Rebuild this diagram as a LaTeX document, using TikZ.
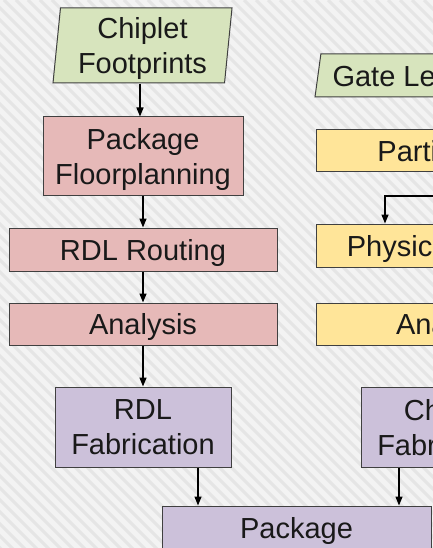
\documentclass[tikz,border=0pt]{standalone}
\usepackage{fontspec}
\setmainfont{Liberation Sans}
\usepackage{tikz}
\usetikzlibrary{
	arrows.meta,
	positioning,
	shapes.geometric,
}
\definecolor{bgcol}{HTML}{F3F3F3}
\definecolor{stripecol}{HTML}{E5E5E5}
\definecolor{inputcol}{HTML}{D7E4BD}
\definecolor{pkgcol}{HTML}{E6B9B8}
\definecolor{chipcol}{HTML}{FFE599}
\definecolor{fabcol}{HTML}{CCC1DA}
\definecolor{edgecol}{HTML}{404040}
\tikzset{
	box/.style={draw=edgecol, line width=1pt, rectangle, inner sep=0pt, align=center,
		font=\fontsize{29}{35}\selectfont, text=black!90, text depth=0pt},
	inputbox/.style={box, trapezium, trapezium stretches body=true},
	flow/.style={-{Triangle[length=9pt,width=7pt]}, line width=1.4pt, black},
}
\begin{document}
\begin{tikzpicture}[x=1pt, y=-1pt]
			\clip (0,0) rectangle (433,548);
			\fill[bgcol] (0,0) rectangle (433,548);
			\foreach \s in {-560,-548,...,440}
				\draw[stripecol, line width=3pt] (\s,0) -- (\s+560,560);
			% package flow
			\node[inputbox, fill=inputcol, trapezium left angle=82.4, trapezium right angle=97.6,
				minimum width=179, minimum height=75] (foot) at (142.5,45.5) {Chiplet\\Footprints};
			\node[box, fill=pkgcol, minimum width=200, minimum height=78] (floor) at (143,156) {Package\\Floorplanning};
			\node[box, fill=pkgcol, minimum width=268, minimum height=43] (route) at (143,249.5) {RDL Routing};
			\node[box, fill=pkgcol, minimum width=268, minimum height=42] (ana) at (143,324) {Analysis};
			\node[box, fill=fabcol, minimum width=176, minimum height=80] (rdlfab) at (143,427) {RDL\\Fabrication};
			% chiplet flow
			\node[inputbox, fill=inputcol, trapezium left angle=74.4, trapezium right angle=105.6,
				minimum width=264, minimum height=43] (netlist) at (447,75.5) {Gate Level Netlist};
			\node[box, fill=chipcol, minimum width=268, minimum height=42] (part) at (450,150.5) {Partitioning};
			\node[box, fill=chipcol, minimum width=268, minimum height=43] (phys) at (450,245.5) {Physical Design};
			\node[box, fill=chipcol, minimum width=268, minimum height=42] (ana2) at (450,324) {Analysis};
			\node[box, fill=fabcol, minimum width=176, minimum height=80] (chipfab) at (449,427) {Chiplet\\Fabrication};
			% assembly
			\node[box, fill=fabcol, minimum width=269, minimum height=43] (pkg) at (296.5,527.5) {Package};
			\coordinate (loop) at (560,196);
			\draw[flow] ([xshift=-2.5]foot.south) -- ([xshift=-2.5]foot.south |- floor.north);
			\draw[flow] (floor) -- (route);
			\draw[flow] (route) -- (ana);
			\draw[flow] (ana) -- (rdlfab);
			\draw[flow] ([xshift=55]rdlfab.south) -- ([xshift=55]rdlfab.south |- pkg.north);
			\draw[flow] ([xshift=-50]chipfab.south) -- ([xshift=-50]chipfab.south |- pkg.north);
			\draw[flow] (loop) -| ([xshift=-65]phys.north);
		\end{tikzpicture}
\end{document}
